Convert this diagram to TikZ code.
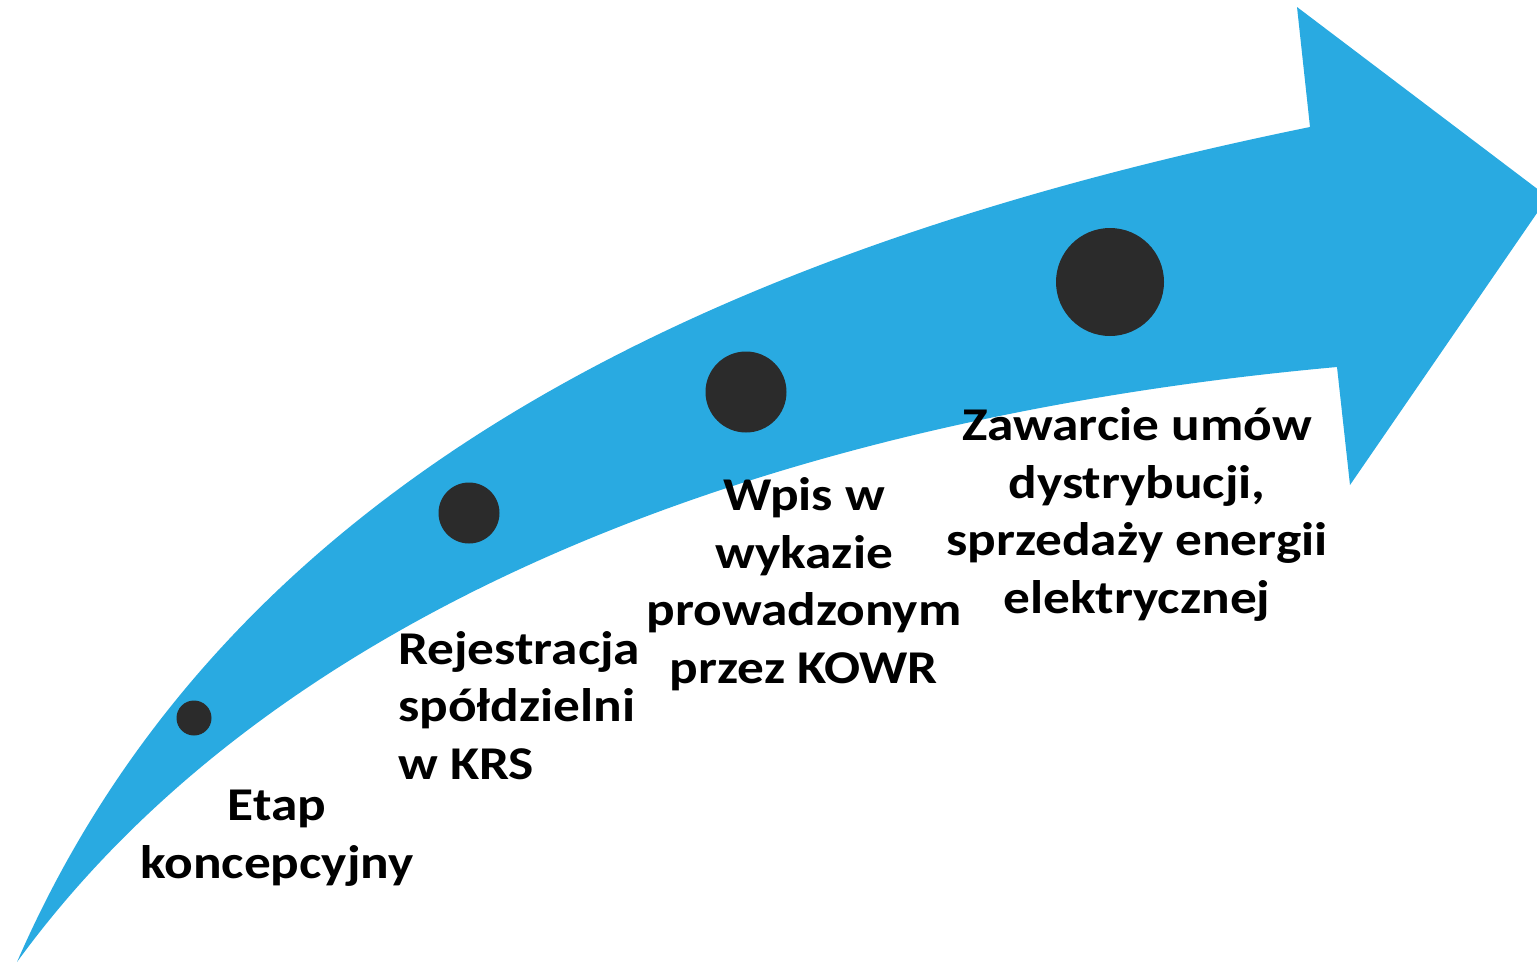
\documentclass[tikz,border=0pt]{standalone}
\usepackage{fontspec}
\setmainfont{Carlito}[FakeStretch=1.135]
\definecolor{arrowblue}{RGB}{41,170,225}
\definecolor{dotgray}{RGB}{43,43,43}
\begin{document}
\begin{tikzpicture}[x=1pt,y=-1pt,
  steptext/.style={font=\bfseries\fontsize{47}{57.5}\selectfont, align=center, anchor=base, inner sep=0pt},
  stepdot/.style={circle, fill=dotgray, inner sep=0pt}]
\useasboundingbox (0,0) rectangle (1537,962);
\begin{scope}
\clip (0,0) rectangle (1537,962);
\fill[arrowblue] (17,962) .. controls (217,502) and (673,257) .. (1310,127)
  -- (1297,7) -- (1548,197) -- (1350,485) -- (1337,367)
  .. controls (789,416.5) and (282.5,597.5) .. (17,962) -- cycle;
\end{scope}
\node[stepdot, minimum size=35pt] (d1) at (194,718) {};
\node[stepdot, minimum size=61pt] (d2) at (469,513) {};
\node[stepdot, minimum size=81pt] (d3) at (746,392) {};
\node[stepdot, minimum size=108pt] (d4) at (1110,282) {};
\node[steptext] (t1) at (277,878) {Etap\\koncepcyjny};
\node[steptext, align=left, anchor=base west] (t2) at (398,779) {Rejestracja\\spółdzielni\\w KRS};
\node[steptext] (t3) at (804,683) {Wpis w\\wykazie\\prowadzonym\\przez KOWR};
\node[steptext] (t4) at (1137,613) {Zawarcie umów\\dystrybucji,\\sprzedaży energii\\elektrycznej};
\end{tikzpicture}
\end{document}
